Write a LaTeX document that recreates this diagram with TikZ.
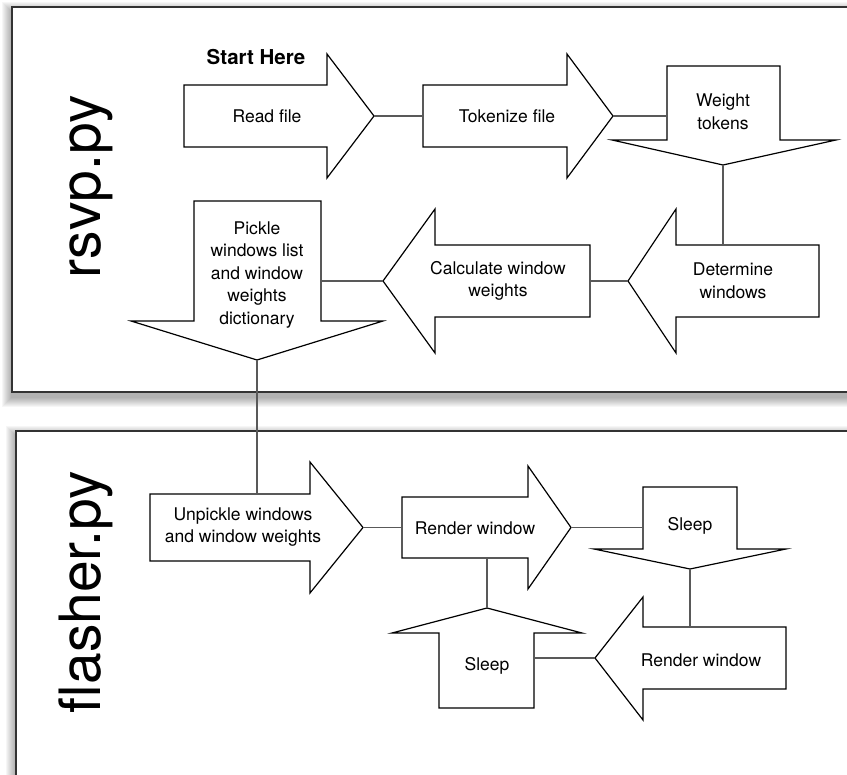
\documentclass[tikz,border=0pt]{standalone}
\usepackage{fontspec}
\setmainfont{TeX Gyre Heros}

\begin{document}
\begin{tikzpicture}[x=1pt,y=-1pt,
    blk/.style={draw=black,line width=1.2pt,fill=white},
    link/.style={draw=black!65,line width=1.6pt},
    txt/.style={align=center,inner sep=0pt,font=\fontsize{17.5}{22.5}\selectfont},
    panel/.style={draw=black!80,line width=2pt,fill=white},
    title/.style={rotate=90,anchor=base,inner sep=0pt,font=\fontsize{57}{60}\selectfont}]
    \useasboundingbox (0,0) rectangle (847,775);
    \clip (0,0) rectangle (847,775);

    \foreach \i in {1,...,10}
        \fill[black,opacity=0.035] (12-\i,12-\i) rectangle (900,397+\i);
    \draw[panel] (12,7) rectangle (900,392);
    \foreach \i in {1,...,10}
        \fill[black,opacity=0.035] (15.5-\i,436-\i) rectangle (900,900);
    \draw[panel] (15.5,431) rectangle (900,900);

    \node[title] (rsvp) at (100,187) {rsvp.py};
    \node[title] (flash) at (100,592) {flasher.py};
    \node[font=\bfseries\fontsize{20.5}{24}\selectfont] (start) at (256,57) {Start Here};

    \draw[blk] (184,116) coordinate (read-w) -- (184,85) -| (327,54) -- (374,116) coordinate (read-tip) -- (327,178) |- (184,147) -- cycle;
    \node[txt] (read) at (267,116) {Read file};
    \draw[blk] (423,116) coordinate (tok-w) -- (423,85) -| (567,54) -- (613,116) coordinate (tok-tip) -- (567,178) |- (423,147) -- cycle;
    \node[txt] (tok) at (507,116) {Tokenize file};
    \draw[blk] (723,66) -- (780,66) |- (836,140) -- (723,165) coordinate (wt-tip) -- (612,140) -| (667,66) coordinate (wt-nw) -- cycle;
    \node[txt] (wt) at (723,112) {Weight\\tokens};
    \draw[blk] (819,281) -- (819,245) coordinate (det-ne) -| (676,209) -- (628,281) coordinate (det-tip) -- (676,353) |- (819,317) -- cycle;
    \node[txt] (det) at (733,281) {Determine\\windows};
    \draw[blk] (590,281) coordinate (calc-e) -- (590,245) -| (435,209) -- (383,281) coordinate (calc-tip) -- (435,353) |- (590,317) -- cycle;
    \node[txt] (calc) at (498,281) {Calculate window\\weights};
    \draw[blk] (257,201) -- (321,201) coordinate (pick-ne) |- (383,321) -- (257,360) coordinate (pick-tip) -- (131,321) -| (194,201) -- cycle;
    \node[txt] (pick) at (257,275) {Pickle\\windows list\\and window\\weights\\dictionary};

    \draw[blk] (150,527.5) -- (150,494) coordinate (unp-nw) -| (310,462) -- (363,527.5) coordinate (unp-tip) -- (310,593) |- (150,561) -- cycle;
    \node[txt] (unp) at (243,527) {Unpickle windows\\and window weights};
    \draw[blk] (402,527.5) coordinate (rend-w) -- (402,497) -| (528,466) -- (571,527.5) coordinate (rend-tip) -- (528,589) |- (402,558) coordinate (rend-sw) -- cycle;
    \node[txt] (rend) at (475,528) {Render window};
    \draw[blk] (690,487) -- (737,487) |- (786,549) -- (690,569) coordinate (sl1-tip) -- (594,549) -| (643,487) coordinate (sl1-nw) -- cycle;
    \node[txt] (sl1) at (690,526) {Sleep};
    \draw[blk] (786,658) -- (786,627) coordinate (ren2-ne) -| (643,597) -- (595,658) coordinate (ren2-tip) -- (643,720) |- (786,689) -- cycle;
    \node[txt] (ren2) at (701,660) {Render window};
    \draw[blk] (487,708) -- (534,708) coordinate (sl2-se) |- (582,633) -- (487,608) coordinate (sl2-tip) -- (392,633) -| (439,708) -- cycle;
    \node[txt] (sl2) at (487,666) {Sleep};

    \draw[link] (read-tip) -- (tok-w);
    \draw[link] (tok-tip) -- (tok-tip -| wt-nw);
    \draw[link] (wt-tip) -- (wt-tip |- det-ne);
    \draw[link] (det-tip) -- (calc-e);
    \draw[link] (calc-tip) -- (calc-tip -| pick-ne);
    \draw[link] (pick-tip) -- (pick-tip |- unp-nw);
    \draw[link] (unp-tip) -- (rend-w);
    \draw[link] (rend-tip) -- (rend-tip -| sl1-nw);
    \draw[link] (sl1-tip) -- (sl1-tip |- ren2-ne);
    \draw[link] (ren2-tip) -- (ren2-tip -| sl2-se);
    \draw[link] (sl2-tip |- rend-sw) -- (sl2-tip);
\end{tikzpicture}
\end{document}
